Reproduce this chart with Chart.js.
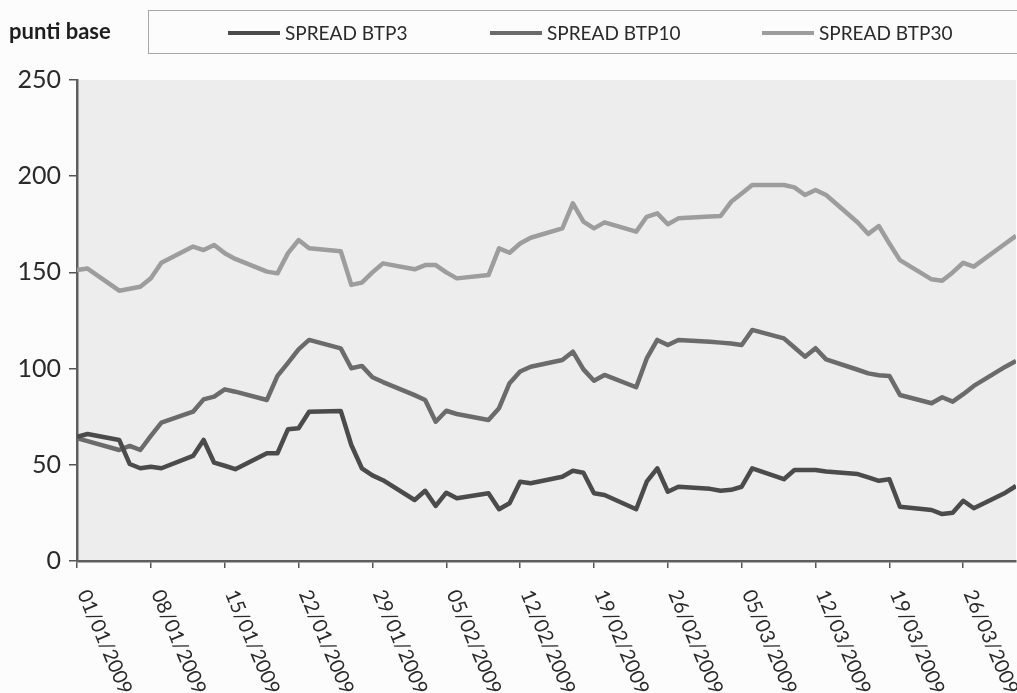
<!DOCTYPE html>
<html>
<head>
<meta charset="utf-8">
<script src="https://cdn.jsdelivr.net/npm/chart.js"></script>
<style>
  html, body { margin: 0; padding: 0; background: #fcfcfc; }
  #wrap { width: 1017px; height: 693px; position: relative; }
</style>
</head>
<body>
<div id="wrap"><canvas id="spread"></canvas></div>
<script>
// giorni lavorativi (gen-mar 2009)
const dates = [
  '01/01/2009','02/01/2009',
  '05/01/2009','06/01/2009','07/01/2009','08/01/2009','09/01/2009',
  '12/01/2009','13/01/2009','14/01/2009','15/01/2009','16/01/2009',
  '19/01/2009','20/01/2009','21/01/2009','22/01/2009','23/01/2009',
  '26/01/2009','27/01/2009','28/01/2009','29/01/2009','30/01/2009',
  '02/02/2009','03/02/2009','04/02/2009','05/02/2009','06/02/2009',
  '09/02/2009','10/02/2009','11/02/2009','12/02/2009','13/02/2009',
  '16/02/2009','17/02/2009','18/02/2009','19/02/2009','20/02/2009',
  '23/02/2009','24/02/2009','25/02/2009','26/02/2009','27/02/2009',
  '02/03/2009','03/03/2009','04/03/2009','05/03/2009','06/03/2009',
  '09/03/2009','10/03/2009','11/03/2009','12/03/2009','13/03/2009',
  '16/03/2009','17/03/2009','18/03/2009','19/03/2009','20/03/2009',
  '23/03/2009','24/03/2009','25/03/2009','26/03/2009','27/03/2009',
  '30/03/2009','31/03/2009'
];

const btp3 = [
  64.6, 66,
  62.9, 50.4, 48.2, 49, 48.2,
  54.6, 62.9, 51.1, 49.5, 47.7,
  56, 56, 68.5, 69, 77.6,
  78, 60.3, 48.2, 44.5, 42,
  31.7, 36.5, 28.6, 35.5, 32.6,
  35.2, 26.9, 30, 41.2, 40.4,
  43.8, 46.9, 45.9, 35.2, 34.3,
  26.9, 41.2, 48.2, 36, 38.6,
  37.5, 36.5, 37, 38.6, 48.2,
  42.5, 47.3, 47.3, 47.3, 46.5,
  45.2, 43.5, 41.7, 42.5, 28.2,
  26.5, 24.4, 25.1, 31.3, 27.4,
  35.5, 39
];

const btp10 = [
  63.8, 62.3,
  57.7, 59.8, 57.7, 65, 71.9,
  77.6, 84, 85.4, 89.2, 88,
  83.7, 96.2, 103, 110, 114.9,
  110.5, 100.2, 101.4, 95.5, 93,
  86.2, 83.7, 72.4, 78.1, 76.4,
  73.3, 79.4, 92.4, 98.5, 101,
  104.5, 108.8, 99.6, 93.7, 96.7,
  90.3, 105.3, 114.9, 112.3, 114.9,
  114, 113.5, 113, 112.3, 120.1,
  115.7, 111, 106.2, 110.6, 104.8,
  99.4, 97.5, 96.5, 96.2, 86.3,
  82, 85.1, 82.8, 86.7, 91,
  101, 104
];

const btp30 = [
  151.2, 152,
  140.5, 141.5, 142.5, 147, 155,
  163.4, 161.6, 164.2, 160, 157,
  150.4, 149.5, 160, 166.8, 162.5,
  161, 143.5, 144.7, 150, 154.7,
  151.6, 153.8, 153.8, 150, 146.9,
  148.6, 162.5, 160.2, 165, 168,
  172.9, 185.9, 176.4, 172.9, 176,
  171.2, 178.9, 180.7, 175, 178.1,
  179, 179.3, 186.7, 191, 195.4,
  195.4, 194.2, 190.2, 192.8, 190.2,
  175.9, 170, 174.1, 165, 156.4,
  146.4, 145.7, 150, 155, 153,
  165, 169
];

const seriesNames = ['SPREAD BTP3', 'SPREAD BTP10', 'SPREAD BTP30'];
const tickLabels = ['01/01/2009','08/01/2009','15/01/2009','22/01/2009','29/01/2009',
  '05/02/2009','12/02/2009','19/02/2009','26/02/2009','05/03/2009','12/03/2009',
  '19/03/2009','26/03/2009'];
const yTicks = [0, 50, 100, 150, 200, 250];

// giorni dal 01/01/2009
function toDay(s) {
  const p = s.split('/').map(Number);
  return (Date.UTC(p[2], p[1] - 1, p[0]) - Date.UTC(2009, 0, 1)) / 86400000;
}
const days = dates.map(toDay);
const pts = arr => days.map((d, i) => ({ x: d, y: arr[i] }));

const colori = ['#4b4b4b', '#6b6b6b', '#9d9d9d'];

const decorazioni = {
  id: 'decorazioni',
  beforeDraw(chart) {
    const { ctx, chartArea: a } = chart;
    ctx.save();
    ctx.fillStyle = '#ededed';
    ctx.fillRect(a.left, a.top, a.right - a.left, a.bottom - a.top);
    ctx.restore();
  },
  afterDraw(chart) {
    const ctx = chart.ctx;
    const xs = chart.scales.x;
    ctx.save();
    // etichette asse x ruotate
    ctx.fillStyle = '#2a2a2a';
    ctx.font = '20px Lato';
    ctx.textAlign = 'left';
    ctx.textBaseline = 'middle';
    tickLabels.forEach(t => {
      const px = xs.getPixelForValue(toDay(t));
      ctx.save();
      ctx.translate(px + 6, 591);
      ctx.rotate(67 * Math.PI / 180);
      ctx.fillText(t, 0, 0);
      ctx.restore();
    });

    // titolo e legenda
    ctx.font = 'bold 22px Lato';
    ctx.fillStyle = '#1e1e1e';
    ctx.fillText('punti base', 9, 32);

    ctx.strokeStyle = '#a8a8a8';
    ctx.lineWidth = 1;
    ctx.strokeRect(148.5, 10.5, 880, 43);

    ctx.font = '19px Lato';
    const xpos = [228, 490, 762];
    chart.data.datasets.forEach((ds, i) => {
      const x = xpos[i];
      ctx.strokeStyle = ds.borderColor;
      ctx.lineWidth = 4;
      ctx.beginPath();
      ctx.moveTo(x, 33);
      ctx.lineTo(x + 52, 33);
      ctx.stroke();
      ctx.fillStyle = '#2a2a2a';
      ctx.fillText(ds.label, x + 57, 34);
    });
    ctx.restore();
  }
};

new Chart(document.getElementById('spread'), {
  type: 'line',
  data: {
    datasets: [btp3, btp10, btp30].map((arr, i) => ({
      label: seriesNames[i],
      data: pts(arr),
      borderColor: colori[i],
      borderWidth: 4.5,
      pointRadius: 0,
      tension: 0,
      borderJoinStyle: 'round',
      fill: false
    }))
  },
  options: {
    responsive: true,
    maintainAspectRatio: false,
    animation: false,
    layout: { padding: { top: 80, right: 1, bottom: 125, left: 0 } },
    plugins: { legend: { display: false }, tooltip: { enabled: false } },
    scales: {
      x: {
        type: 'linear',
        min: 0,
        max: days[days.length - 1],
        afterBuildTicks: s => { s.ticks = tickLabels.map(t => ({ value: toDay(t) })); },
        ticks: { display: false },
        grid: { drawOnChartArea: false, tickLength: 7, color: '#555', lineWidth: 1.5 },
        border: { color: '#5e5e5e', width: 2.5 }
      },
      y: {
        min: 0,
        max: 250,
        afterBuildTicks: s => { s.ticks = yTicks.map(v => ({ value: v })); },
        afterFit: s => { s.width = 77; },
        ticks: { color: '#2a2a2a', font: { family: 'Lato', size: 25 }, padding: 8 },
        grid: { drawOnChartArea: false, tickLength: 8, color: '#555', lineWidth: 1.5 },
        border: { color: '#5e5e5e', width: 2.5 }
      }
    }
  },
  plugins: [decorazioni]
});
</script>
</body>
</html>
